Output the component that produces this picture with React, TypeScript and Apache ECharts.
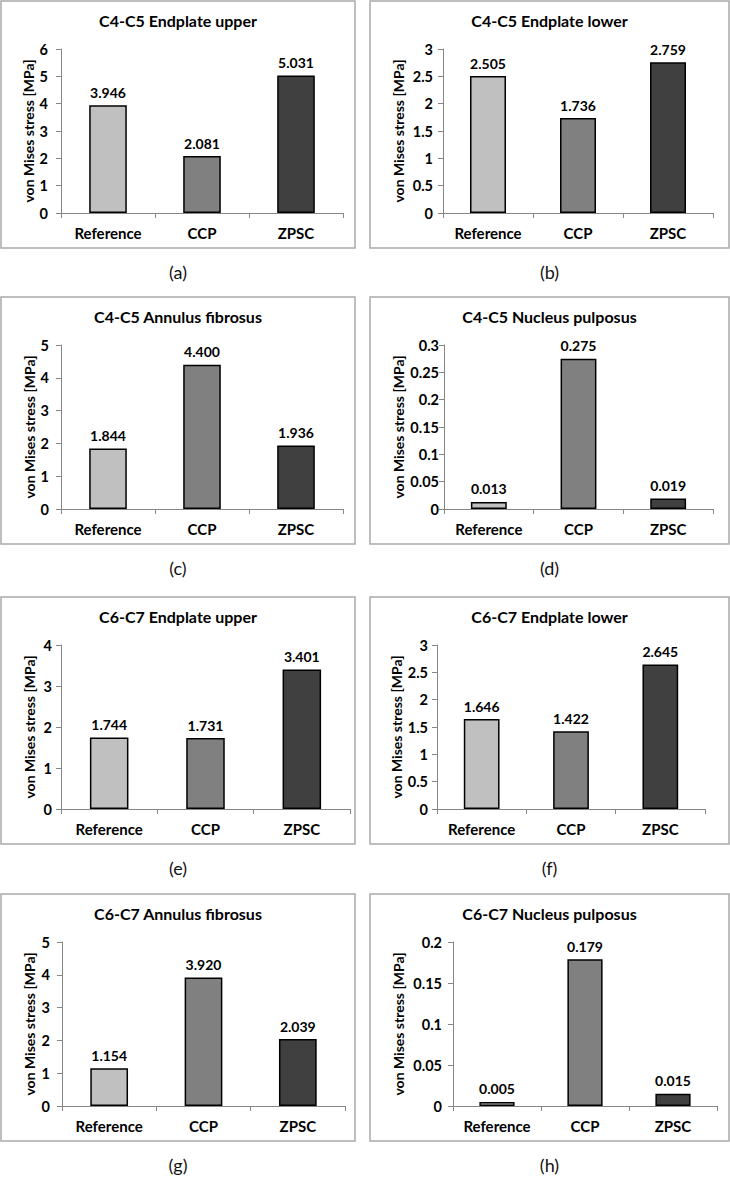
import React, { useEffect, useRef } from "react";
import * as echarts from "echarts";

// ---------- data ----------
const CATEGORIES = ["Reference", "CCP", "ZPSC"];
const TITLES = [
  "C4-C5 Endplate upper",
  "C4-C5 Endplate lower",
  "C4-C5 Annulus fibrosus",
  "C4-C5 Nucleus pulposus",
  "C6-C7 Endplate upper",
  "C6-C7 Endplate lower",
  "C6-C7 Annulus fibrosus",
  "C6-C7 Nucleus pulposus",
];
const CAPTIONS = ["(a)", "(b)", "(c)", "(d)", "(e)", "(f)", "(g)", "(h)"];
const C45_ENDPLATE_UPPER = [3.946, 2.081, 5.031];
const C45_ENDPLATE_LOWER = [2.505, 1.736, 2.759];
const C45_ANNULUS = [1.844, 4.4, 1.936];
const C45_NUCLEUS = [0.013, 0.275, 0.019];
const C67_ENDPLATE_UPPER = [1.744, 1.731, 3.401];
const C67_ENDPLATE_LOWER = [1.646, 1.422, 2.645];
const C67_ANNULUS = [1.154, 3.92, 2.039];
const C67_NUCLEUS = [0.005, 0.179, 0.015];
const SERIES_VALUES = [
  C45_ENDPLATE_UPPER,
  C45_ENDPLATE_LOWER,
  C45_ANNULUS,
  C45_NUCLEUS,
  C67_ENDPLATE_UPPER,
  C67_ENDPLATE_LOWER,
  C67_ANNULUS,
  C67_NUCLEUS,
];
const Y_MAX = [6, 3, 5, 0.3, 4, 3, 5, 0.2];
const Y_STEP = [1, 0.5, 1, 0.05, 1, 0.5, 1, 0.05];
const Y_NAME = "von Mises stress [MPa]";

// ---------- layout / style ----------
const BAR_COLORS = ["#c0c0c0", "#808080", "#404040"];
const FONT = "Lato, 'Open Sans', sans-serif";
const ROW_TOPS = [1, 297, 597, 894];
const COL_LEFTS = [1, 370];
const COL_WIDTHS = [354, 359];
const PANEL_H = 247;
const CAPTION_OFFSET = 24;
const GRID_LEFT = [60, 73, 60, 74, 60, 67, 61, 83];
const GRID_RIGHT = [342, 343, 342, 343, 349, 335, 344, 347];
const LABEL_MARGIN = [13, 10, 12, 5, 9, 9, 12, 11];
const GRID_TOP = 48;
const GRID_H = 164;

export default function App() {
  const ref = useRef<HTMLDivElement>(null);

  useEffect(() => {
    if (!ref.current) return;
    const chart = echarts.init(ref.current, undefined, { renderer: "svg" });

    const grids: any[] = [];
    const xAxes: any[] = [];
    const yAxes: any[] = [];
    const series: any[] = [];
    const titles: any[] = [];
    const graphics: any[] = [];

    for (let i = 0; i < 8; i++) {
      const row = Math.floor(i / 2);
      const col = i % 2;
      const px = COL_LEFTS[col];
      const py = ROW_TOPS[row];
      const pw = COL_WIDTHS[col];

      graphics.push({
        type: "rect",
        shape: { x: px, y: py, width: pw, height: PANEL_H },
        style: { fill: "none", stroke: "#a9a9a9", lineWidth: 1.5 },
        silent: true,
      });
      graphics.push({
        type: "text",
        x: px + pw / 2,
        y: py + PANEL_H + CAPTION_OFFSET,
        style: {
          text: CAPTIONS[i],
          fontFamily: FONT,
          fontSize: 18,
          fill: "#111",
          textAlign: "center",
          textVerticalAlign: "middle",
        },
        silent: true,
      });

      titles.push({
        text: TITLES[i],
        left: px + pw / 2,
        top: py + 11,
        textAlign: "center",
        padding: 0,
        textStyle: { fontFamily: FONT, fontSize: 16, fontWeight: "bold", color: "#000" },
      });

      const gl = GRID_LEFT[i];
      grids.push({
        left: px + gl,
        top: py + GRID_TOP,
        width: GRID_RIGHT[i] - gl,
        height: GRID_H,
        containLabel: false,
      });

      xAxes.push({
        type: "category",
        gridIndex: i,
        data: CATEGORIES,
        boundaryGap: true,
        axisLine: { lineStyle: { color: "#868686", width: 1 } },
        axisTick: { show: true, length: 5, lineStyle: { color: "#868686" } },
        axisLabel: {
          margin: 12,
          fontFamily: FONT,
          fontSize: 15,
          fontWeight: "bold",
          color: "#000",
        },
      });

      yAxes.push({
        type: "value",
        gridIndex: i,
        min: 0,
        max: Y_MAX[i],
        interval: Y_STEP[i],
        name: Y_NAME,
        nameLocation: "middle",
        nameGap: gl - 35,
        nameTextStyle: { fontFamily: FONT, fontSize: 14, fontWeight: "bold", color: "#000" },
        axisLine: { show: true, lineStyle: { color: "#868686", width: 1 } },
        axisTick: { show: true, length: 5, lineStyle: { color: "#868686" } },
        splitLine: { show: false },
        axisLabel: {
          margin: LABEL_MARGIN[i],
          fontFamily: FONT,
          fontSize: 14.5,
          fontWeight: "bold",
          color: "#000",
        },
      });

      series.push({
        type: "bar",
        xAxisIndex: i,
        yAxisIndex: i,
        barWidth: "40%",
        data: SERIES_VALUES[i].map((v, k) => ({
          value: v,
          itemStyle: { color: BAR_COLORS[k] },
        })),
        itemStyle: { borderColor: "#000", borderWidth: 1.5 },
        label: {
          show: true,
          position: "top",
          distance: 6,
          fontFamily: FONT,
          fontSize: 14,
          fontWeight: "bold",
          color: "#000",
          formatter: (p: any) => Number(p.value).toFixed(3),
        },
      });
    }

    chart.setOption({
      animation: false,
      backgroundColor: "#fff",
      title: titles,
      grid: grids,
      xAxis: xAxes,
      yAxis: yAxes,
      series,
      graphic: graphics,
    });

    return () => chart.dispose();
  }, []);

  return (
    <div
      ref={ref}
      style={{ position: "absolute", left: 0, top: 0, width: 730, height: 1177, background: "#fff" }}
    />
  );
}
